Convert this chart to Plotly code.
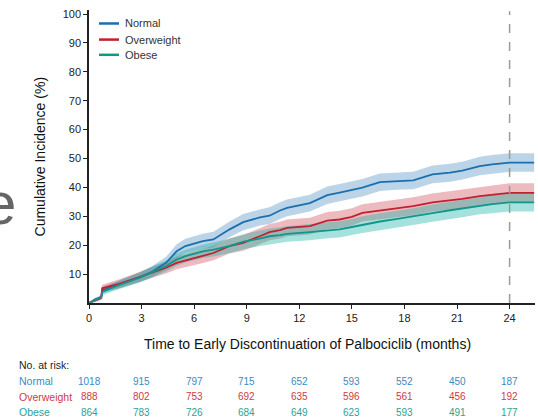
import plotly.graph_objects as go

# ---------------- data ----------------
months = [0, 0.35, 0.7, 0.75, 1.7, 2.9, 3.6, 4.4, 5.0, 5.5, 6.5, 7.1, 8.0, 8.8, 9.75, 10.3,
          10.9, 11.3, 12.6, 13.6, 14.3, 15.0, 15.6, 16.6, 17.5, 18.5, 19.6, 20.6, 21.3,
          22.3, 23.0, 24.0, 25.4]

normal = [0, 1.3, 2.0, 4.4, 6.4, 9.0, 10.8, 13.9, 17.9, 19.7, 21.4, 22.0, 25.4, 28.0, 29.6,
          30.2, 32.0, 32.9, 34.6, 37.3, 38.2, 39.2, 39.9, 41.8, 42.2, 42.4, 44.5, 45.1, 45.8,
          47.4, 48.0, 48.6, 48.6]
overweight = [0, 0.8, 1.8, 5.1, 6.6, 9.0, 10.6, 12.2, 13.9, 14.7, 16.2, 17.3, 19.7, 20.8, 23.1,
              24.5, 25.2, 26.0, 26.6, 28.5, 28.9, 29.8, 31.2, 32.0, 32.8, 33.5, 34.8, 35.5,
              36.0, 37.0, 37.5, 38.1, 38.1]
obese = [0, 1.0, 2.0, 3.8, 6.2, 8.8, 10.8, 12.8, 15.0, 16.2, 17.9, 18.5, 19.7, 21.2, 22.3,
         23.1, 23.5, 23.9, 24.5, 25.2, 25.5, 26.3, 27.1, 28.2, 29.0, 29.9, 31.1, 32.1, 32.7,
         33.7, 34.2, 34.8, 34.8]

# 95% CI half-widths
normal_ci = [0, 0.5, 0.7, 1.1, 1.4, 1.7, 1.9, 2.1, 2.4, 2.5, 2.6, 2.7, 2.7, 2.8, 2.8, 2.9,
             2.9, 2.9, 2.9, 3.0, 3.0, 3.0, 3.0, 3.0, 3.0, 3.0, 3.1, 3.1, 3.1, 3.2, 3.2, 3.2, 3.2]
overweight_ci = [0, 0.5, 0.8, 1.2, 1.5, 1.7, 1.9, 2.0, 2.2, 2.3, 2.4, 2.5, 2.6, 2.7, 2.8, 2.8,
                 2.9, 2.9, 2.9, 3.0, 3.0, 3.0, 3.0, 3.1, 3.1, 3.1, 3.1, 3.2, 3.2, 3.2, 3.3, 3.3, 3.3]
obese_ci = [0, 0.5, 0.7, 1.1, 1.4, 1.7, 1.8, 1.9, 2.1, 2.2, 2.3, 2.4, 2.5, 2.6, 2.6, 2.7,
            2.7, 2.7, 2.8, 2.8, 2.8, 2.8, 2.9, 2.9, 2.9, 2.9, 3.0, 3.0, 3.0, 3.0, 3.1, 3.1, 3.1]

group_names = ["Normal", "Overweight", "Obese"]

x_ticks = [0, 3, 6, 9, 12, 15, 18, 21, 24]
y_ticks = [10, 20, 30, 40, 50, 60, 70, 80, 90, 100]

risk_times = [0, 3, 6, 9, 12, 15, 18, 21, 24]
risk_normal = [1018, 915, 797, 715, 652, 593, 552, 450, 187]
risk_overweight = [888, 802, 753, 692, 635, 596, 561, 456, 192]
risk_obese = [864, 783, 726, 684, 649, 623, 593, 491, 177]

cutoff_month = 24

# ---------------- styles ----------------
FONT = "Liberation Sans, Arial, Helvetica, sans-serif"
line_colors = ["#1c6fae", "#c0212f", "#12968a"]
band_colors = ["rgba(31,111,174,0.30)", "rgba(200,40,55,0.32)", "rgba(30,180,170,0.40)"]
table_colors = ["#3a8ac4", "#cf3a45", "#2aa396"]

series = [normal, overweight, obese]
cis = [normal_ci, overweight_ci, obese_ci]
risks = [risk_normal, risk_overweight, risk_obese]

fig = go.Figure()

# confidence bands
for vals, ci, bc in zip(series, cis, band_colors):
    upper = [v + c for v, c in zip(vals, ci)]
    lower = [max(v - c, 0) for v, c in zip(vals, ci)]
    fig.add_trace(go.Scatter(
        x=months + months[::-1], y=upper + lower[::-1],
        fill="toself", fillcolor=bc, line=dict(width=0),
        mode="lines", hoverinfo="skip", showlegend=False))

# curves
for vals, name, lc in zip(series, group_names, line_colors):
    fig.add_trace(go.Scatter(x=months, y=vals, mode="lines", name=name,
                             line=dict(color=lc, width=1.8), showlegend=False))

# dashed 24-month line
fig.add_shape(type="line", xref="x", yref="y", x0=cutoff_month, x1=cutoff_month,
              y0=0, y1=101, line=dict(color="#9a9a9a", width=1.5, dash="dash"))

# legend (manual, compact)
leg_y = [0.954, 0.899, 0.847]
for name, lc, ly in zip(group_names, line_colors, leg_y):
    fig.add_shape(type="line", xref="paper", yref="paper", x0=0.0224, x1=0.0673,
                  y0=ly, y1=ly, line=dict(color=lc, width=2.5))
    fig.add_annotation(xref="paper", yref="paper", x=0.077, y=ly, text=name,
                       showarrow=False, xanchor="left", yanchor="middle",
                       font=dict(family=FONT, size=11, color="#333333"))

# axis titles
fig.add_annotation(xref="paper", yref="paper", x=-0.11, y=0.5,
                   text="Cumulative Incidence (%)", textangle=-90, showarrow=False,
                   xanchor="center", yanchor="middle",
                   font=dict(family=FONT, size=14, color="#111111"))
fig.add_annotation(xref="paper", yref="paper", x=0.491, y=-0.141,
                   text="Time to Early Discontinuation of Palbociclib (months)",
                   showarrow=False, xanchor="center", yanchor="middle",
                   font=dict(family=FONT, size=14, color="#111111"))

# partially visible panel letter at left edge
fig.add_annotation(xref="paper", yref="paper", x=-0.1996, y=0.34, text="e",
                   showarrow=False, xanchor="center", yanchor="middle",
                   font=dict(family=FONT, size=60, color="#666666"))

# risk table
fig.add_annotation(xref="paper", yref="paper", x=-0.1608, y=-0.2132, text="No. at risk:",
                   showarrow=False, xanchor="left", yanchor="middle",
                   font=dict(family=FONT, size=10.5, color="#222222"))
row_y = [-0.2663, -0.3193, -0.3723]
for name, counts, tc, ry in zip(group_names, risks, table_colors, row_y):
    fig.add_annotation(xref="paper", yref="paper", x=-0.1608, y=ry, text=name,
                       showarrow=False, xanchor="left", yanchor="middle",
                       font=dict(family=FONT, size=10.5, color=tc))
    for tm, n in zip(risk_times, counts):
        fig.add_annotation(xref="x", yref="paper", x=tm, y=ry, text=str(n),
                           showarrow=False, xanchor="center", yanchor="middle",
                           font=dict(family=FONT, size=10, color=tc))

fig.update_layout(
    width=538, height=418,
    margin=dict(l=89, r=3, t=10, b=115, pad=0, autoexpand=False),
    plot_bgcolor="white", paper_bgcolor="white",
    showlegend=False,
    font=dict(family=FONT, size=11, color="#222222"),
    xaxis=dict(range=[0, 25.45], tickvals=x_ticks, showline=True, linecolor="#222222",
               linewidth=1.5, ticks="outside", ticklen=4, tickwidth=1.2, tickcolor="#222222",
               showgrid=False, zeroline=False, fixedrange=True,
               tickfont=dict(family=FONT, size=11, color="#222222")),
    yaxis=dict(range=[0, 101.4], tickvals=y_ticks, showline=True, linecolor="#222222",
               linewidth=1.5, ticks="outside", ticklen=4, tickwidth=1.2, tickcolor="#222222",
               showgrid=False, zeroline=False, fixedrange=True,
               tickfont=dict(family=FONT, size=11, color="#222222")),
)

fig.write_html("out.html")
